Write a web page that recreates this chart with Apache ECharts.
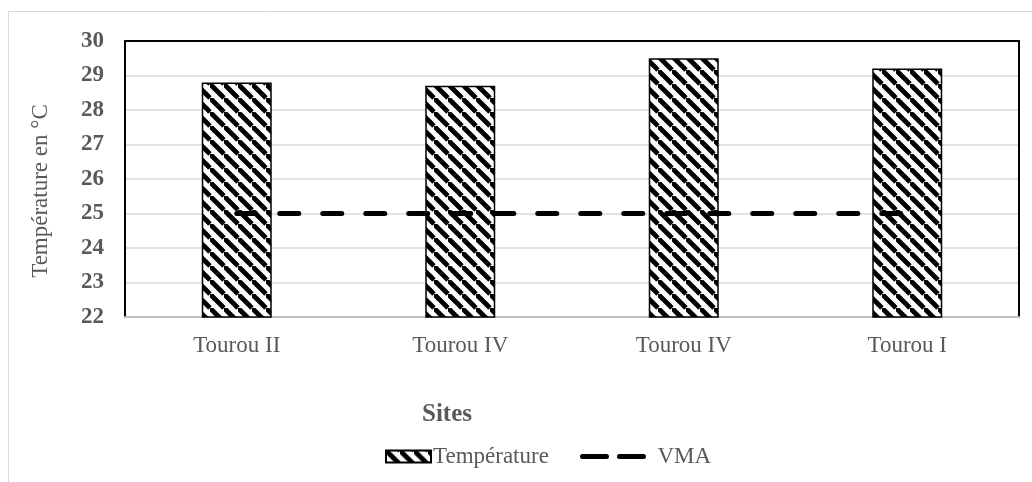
<!DOCTYPE html>
<html><head><meta charset="utf-8">
<script src="https://cdn.jsdelivr.net/npm/echarts@6/dist/echarts.min.js"></script>
<style>html,body{margin:0;padding:0;background:#fff}#c{width:1032px;height:482px}</style>
</head><body><div id="c"></div>
<script>
var categories = ['Tourou II', 'Tourou IV', 'Tourou IV', 'Tourou I'];
var temperature = [28.8, 28.7, 29.5, 29.2];
var vma = [25, 25, 25, 25];
var yTicks = [22, 23, 24, 25, 26, 27, 28, 29, 30];

function hatch() {
  var s = 14, c = document.createElement('canvas');
  c.width = s; c.height = s;
  var g = c.getContext('2d');
  g.fillStyle = '#fff'; g.fillRect(0, 0, s, s);
  g.strokeStyle = '#000'; g.lineWidth = 4.8;
  [[0, 0], [-s, 0], [0, -s]].forEach(function (o) {
    g.beginPath(); g.moveTo(o[0], o[1]); g.lineTo(o[0] + s, o[1] + s); g.stroke();
  });
  return c;
}
var pat = { image: hatch(), repeat: 'repeat' };
var F = 'Liberation Serif';
var chart = echarts.init(document.getElementById('c'));
chart.setOption({
  animation: false,
  backgroundColor: '#fff',
  grid: { left: 125, top: 41, right: 13, bottom: 165 },
  graphic: [
    { type: 'rect', shape: { x: 8.5, y: 11.5, width: 1040, height: 500 },
      style: { fill: 'none', stroke: '#d9d9d9', lineWidth: 1 }, z: -10 },
    { type: 'text', x: 41, y: 191, rotation: Math.PI / 2,
      style: { text: 'Température en °C', fontFamily: F, fontSize: 23, fill: '#595959',
        textAlign: 'center', textVerticalAlign: 'middle' } },
    { type: 'text', x: 447, y: 415,
      style: { text: 'Sites', fontFamily: F, fontSize: 25, fontWeight: 'bold', fill: '#595959',
        textAlign: 'center', textVerticalAlign: 'middle' } }
  ],
  legend: [
    { data: [{ name: 'Température', icon: 'rect' }], left: 380, top: 440, itemWidth: 45, itemHeight: 12, itemGap: 10,
      textStyle: { fontFamily: F, fontSize: 23, color: '#595959', padding: [0, 0, 0, -3] } },
    { data: ['VMA'], left: 575, top: 440, itemWidth: 72, itemHeight: 14,
      itemStyle: { color: 'rgba(0,0,0,0)', borderWidth: 0, opacity: 0 },
      lineStyle: { color: '#000', width: 5, type: [24, 13], cap: 'round' },
      textStyle: { fontFamily: F, fontSize: 23, color: '#595959', padding: [0, 0, 0, -2] } }
  ],
  xAxis: [
    { type: 'category', data: categories, position: 'bottom',
      axisLine: { lineStyle: { color: '#bfbfbf', width: 2 } }, axisTick: { show: false },
      axisLabel: { fontFamily: F, fontSize: 23, color: '#595959', margin: 17 } },
    { type: 'category', data: categories, position: 'top',
      axisLine: { lineStyle: { color: '#000', width: 2 } }, axisTick: { show: false },
      axisLabel: { show: false } }
  ],
  yAxis: [
    { type: 'value', min: yTicks[0], max: yTicks[yTicks.length - 1], interval: 1,
      axisLine: { show: true, lineStyle: { color: '#000', width: 2 } }, axisTick: { show: false },
      axisLabel: { fontFamily: F, fontSize: 23, fontWeight: 'bold', color: '#595959', margin: 21 },
      splitLine: { lineStyle: { color: '#d9d9d9', width: 1.5 } } },
    { type: 'value', min: yTicks[0], max: yTicks[yTicks.length - 1], interval: 1, position: 'right',
      axisLine: { show: true, lineStyle: { color: '#000', width: 2 } }, axisTick: { show: false },
      axisLabel: { show: false }, splitLine: { show: false } }
  ],
  series: [
    { name: 'Température', type: 'bar', data: temperature, barWidth: 70,
      itemStyle: { color: pat, borderColor: '#000', borderWidth: 1.5 } },
    { name: 'VMA', type: 'line', data: vma, symbol: 'none', z: 5,
      lineStyle: { color: '#000', width: 5, type: [19, 24], cap: 'round' },
      itemStyle: { color: '#000' } }
  ]
});
</script></body></html>
